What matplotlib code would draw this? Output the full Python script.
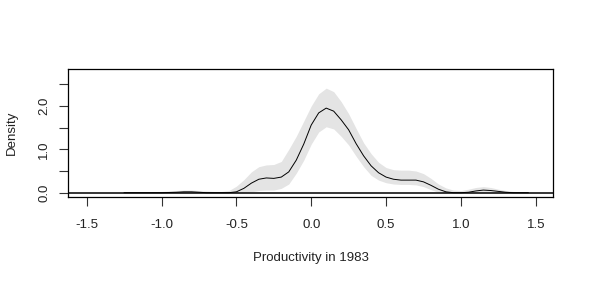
import numpy as np
import matplotlib
matplotlib.use('Agg')
import matplotlib.pyplot as plt

# grid of productivity values and density estimate with its band
produtividade = [-1.25, -1.20, -1.15, -1.10, -1.05, -1.00, -0.95, -0.90, -0.85, -0.80,
                 -0.75, -0.70, -0.65, -0.60, -0.55, -0.50, -0.45, -0.40, -0.35, -0.30,
                 -0.25, -0.20, -0.15, -0.10, -0.05, 0.00, 0.05, 0.10, 0.15, 0.20,
                 0.25, 0.30, 0.35, 0.40, 0.45, 0.50, 0.55, 0.60, 0.65, 0.70,
                 0.75, 0.80, 0.85, 0.90, 0.95, 1.00, 1.05, 1.10, 1.15, 1.20,
                 1.25, 1.30, 1.35, 1.40, 1.45]

densidade = [0.0, 0.0, 0.0, 0.0, 0.0, 0.0, 0.005, 0.01, 0.02, 0.02,
             0.01, 0.0, 0.0, 0.0, 0.0, 0.02, 0.10, 0.22, 0.31, 0.34,
             0.33, 0.36, 0.48, 0.75, 1.12, 1.56, 1.84, 1.95, 1.88, 1.68,
             1.45, 1.13, 0.85, 0.62, 0.46, 0.36, 0.31, 0.29, 0.29, 0.29,
             0.25, 0.17, 0.08, 0.02, 0.0, 0.0, 0.01, 0.04, 0.06, 0.05,
             0.03, 0.01, 0.0, 0.0, 0.0]

limite_sup = [0.01, 0.015, 0.02, 0.02, 0.025, 0.03, 0.04, 0.05, 0.06, 0.06,
              0.05, 0.04, 0.03, 0.03, 0.05, 0.15, 0.30, 0.48, 0.60, 0.64,
              0.65, 0.72, 1.00, 1.30, 1.65, 2.00, 2.28, 2.41, 2.33, 2.10,
              1.82, 1.48, 1.15, 0.90, 0.70, 0.58, 0.53, 0.52, 0.52, 0.50,
              0.44, 0.33, 0.20, 0.11, 0.06, 0.05, 0.08, 0.12, 0.14, 0.12,
              0.08, 0.05, 0.03, 0.02, 0.01]

limite_inf = [0.0, 0.0, 0.0, 0.0, 0.0, 0.0, 0.0, 0.0, 0.0, 0.0,
              0.0, 0.0, 0.0, 0.0, 0.0, 0.0, 0.0, 0.02, 0.05, 0.06,
              0.06, 0.10, 0.20, 0.45, 0.75, 1.12, 1.40, 1.52, 1.47, 1.30,
              1.10, 0.84, 0.60, 0.40, 0.29, 0.23, 0.20, 0.19, 0.19, 0.18,
              0.14, 0.07, 0.01, 0.0, 0.0, 0.0, 0.0, 0.0, 0.0, 0.0,
              0.0, 0.0, 0.0, 0.0, 0.0]

ticks_x = [-1.5, -1.0, -0.5, 0.0, 0.5, 1.0, 1.5]
rotulos_x = ['-1.5', '-1.0', '-0.5', '0.0', '0.5', '1.0', '1.5']
ticks_y = [0.0, 0.5, 1.0, 1.5, 2.0, 2.5]
rotulos_y = ['0.0', '', '1.0', '', '2.0', '']


def gerar_grafico():
    plt.rcParams['font.family'] = ['Liberation Sans', 'DejaVu Sans']

    fig = plt.figure(figsize=(5.89, 2.83), dpi=100)
    ax = fig.add_axes([0.116, 0.305, 0.823, 0.452])

    ax.fill_between(produtividade, limite_inf, limite_sup, color='#e4e4e4', linewidth=0)
    ax.plot(produtividade, densidade, color='black', linewidth=0.7)
    ax.axhline(0, color='black', linewidth=1.1)

    ax.set_xlim(-1.623, 1.616)
    ax.set_ylim(-0.092, 2.857)

    for lado in ax.spines.values():
        lado.set_linewidth(0.9)
        lado.set_color('black')

    ax.set_xticks(ticks_x)
    ax.set_xticklabels(rotulos_x, fontsize=9.5, color='#222222')
    ax.set_yticks(ticks_y)
    ax.set_yticklabels(rotulos_y, fontsize=9.5, color='#222222', rotation=90, va='center')
    ax.tick_params(axis='both', direction='out', length=6.5, width=0.8, color='#333333')
    ax.tick_params(axis='x', pad=9.5)
    ax.tick_params(axis='y', pad=6.5)

    ax.set_xlabel('Productivity in 1983', fontsize=9.5, color='#222222', labelpad=15)
    ax.set_ylabel('Density', fontsize=9.5, color='#222222', labelpad=15)

    fig.savefig('out.png', dpi=100)


def main():
    gerar_grafico()


if __name__ == "__main__":
    main()
